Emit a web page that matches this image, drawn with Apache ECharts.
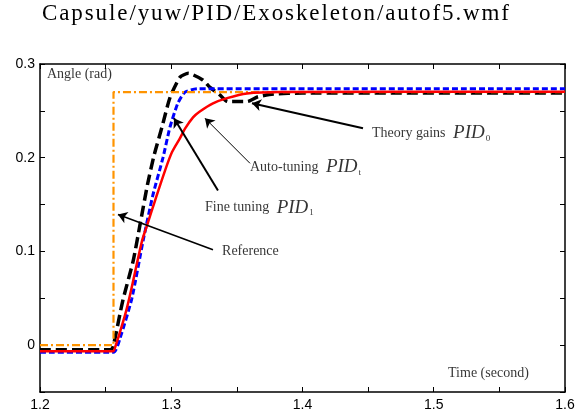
<!DOCTYPE html>
<html>
<head>
<meta charset="utf-8">
<script src="https://cdn.jsdelivr.net/npm/echarts@6/dist/echarts.min.js"></script>
<style>
  html, body { margin: 0; padding: 0; background: #fff; }
  #title { position: absolute; left: 42px; top: 0px; font-family: 'Liberation Serif', serif; font-size: 23px; letter-spacing: 1.9px; color: #000; }
  #chart { position: absolute; left: 0; top: 0; width: 579px; height: 415px; }
</style>
</head>
<body>
<div id="chart"></div>
<div id="title">Capsule/yuw/PID/Exoskeleton/autof5.wmf</div>
<script>
// [time, angle]
const referenceData = [[1.2, 0], [1.256, 0], [1.256, 0.27], [1.6, 0.27]]
const theoryData = [
  [1.2, -0.005], [1.254, -0.005], [1.256, 0.0], [1.263, 0.047], [1.271, 0.09],
  [1.276, 0.127], [1.282, 0.172], [1.287, 0.203], [1.293, 0.233], [1.299, 0.264],
  [1.3067, 0.286], [1.313, 0.29], [1.324, 0.283], [1.3295, 0.275], [1.337, 0.267],
  [1.343, 0.26], [1.358, 0.26], [1.366, 0.265], [1.378, 0.268], [1.4, 0.269], [1.6, 0.269]
]
const fineData = [
  [1.2, -0.0075], [1.256, -0.0075], [1.261, 0.0075], [1.27, 0.05], [1.2785, 0.111],
  [1.286, 0.16], [1.2937, 0.2], [1.299, 0.2325], [1.305, 0.258], [1.3105, 0.27],
  [1.32, 0.2735], [1.6, 0.2735]
]
const autoData = [
  [1.2, -0.0065], [1.2556, -0.0065], [1.2571, -0.003], [1.2663, 0.04], [1.2777, 0.111],
  [1.2815, 0.1275], [1.2876, 0.154], [1.2952, 0.186], [1.3006, 0.206], [1.3067, 0.221],
  [1.3105, 0.231], [1.3166, 0.243], [1.3215, 0.249], [1.3318, 0.258], [1.3425, 0.2636],
  [1.3577, 0.2686], [1.383, 0.2702], [1.6, 0.2705]
]

// annotation arrows: [from, to, width]
const arrows = [
  [[1.4461, 0.2314], [1.3615, 0.2582], 2],
  [[1.36, 0.194], [1.3257, 0.2421], 1],
  [[1.3356, 0.165], [1.3021, 0.2421], 2],
  [[1.3318, 0.1018], [1.2594, 0.1393], 1.6]
]
// annotation texts: [position, rich text]
const notes = [
  [[1.453, 0.2261], '{n|Theory gains }{p|PID}{s|0}'],
  [[1.36, 0.1896], '{n|Auto-tuning }{p|PID}{s|t}'],
  [[1.3257, 0.1468], '{n|Fine tuning }{p|PID}{s|1}'],
  [[1.3387, 0.0996], '{n|Reference}'],
  [[1.2053, 0.2893], '{n|Angle (rad)}'],
  [[1.5109, -0.03], '{n|Time (second)}']
]

const xTicks = [1.2, 1.3, 1.4, 1.5, 1.6]
const yTicks = [0, 0.1, 0.2, 0.3]

const chart = echarts.init(document.getElementById('chart'))

const isMajor = (v, list) => list.some(t => Math.abs(t - v) < 1e-6)
const axisLine = { show: true, onZero: false, lineStyle: { color: '#000', width: 1.5 } }
const axisTick = { show: true, inside: true, length: 5, lineStyle: { color: '#000', width: 1 } }
const tickFont = { color: '#000', fontSize: 14, fontFamily: 'Liberation Sans' }

const option = {
  backgroundColor: '#fff',
  animation: false,
  grid: { left: 40, right: 14, top: 64, bottom: 23 },
  xAxis: [
    {
      type: 'value', min: 1.2, max: 1.6, interval: 0.05,
      axisLine, axisTick, splitLine: { show: false },
      axisLabel: {
        ...tickFont, margin: 6,
        formatter: v => (isMajor(v, xTicks) ? v.toFixed(1) : '')
      }
    },
    {
      type: 'value', position: 'top', min: 1.2, max: 1.6, interval: 0.05,
      axisLine, axisTick, splitLine: { show: false }, axisLabel: { show: false }
    }
  ],
  yAxis: [
    {
      type: 'value', min: -0.05, max: 0.3, interval: 0.05,
      axisLine, axisTick, splitLine: { show: false },
      axisLabel: {
        ...tickFont, margin: 5,
        formatter: v => (isMajor(v, yTicks) ? (Math.abs(v) < 1e-9 ? '0' : v.toFixed(1)) : '')
      }
    },
    {
      type: 'value', position: 'right', min: -0.05, max: 0.3, interval: 0.05,
      axisLine, axisTick, splitLine: { show: false }, axisLabel: { show: false }
    }
  ],
  series: [
    {
      name: 'Theory gains PID0', type: 'line', data: theoryData, symbol: 'none', smooth: 0.2,
      lineStyle: { color: '#000', width: 3.5, type: [11, 5] }
    },
    {
      name: 'Fine tuning PID1', type: 'line', data: fineData, symbol: 'none', smooth: 0.2,
      lineStyle: { color: '#0000ff', width: 3, type: [6, 3] }
    },
    {
      name: 'Reference', type: 'line', data: referenceData, symbol: 'none',
      lineStyle: { color: '#ff9400', width: 2.2, type: [8, 3, 2, 3] }
    },
    {
      name: 'Auto-tuning PIDt', type: 'line', data: autoData, symbol: 'none', smooth: 0.3,
      lineStyle: { color: '#ff0000', width: 2.5 }
    },
    {
      type: 'lines', coordinateSystem: 'cartesian2d', z: 5,
      symbol: ['none', 'arrow'], symbolSize: 9,
      data: arrows.map(a => ({
        coords: [a[0], a[1]],
        lineStyle: { color: '#000', width: a[2], opacity: 1 }
      }))
    },
    {
      type: 'scatter', symbolSize: 0, z: 6,
      data: notes.map(n => ({
        value: n[0],
        label: { formatter: n[1] }
      })),
      label: {
        show: true, position: 'right', distance: 0,
        rich: {
          n: { fontFamily: 'Liberation Serif', fontSize: 14, color: '#000' },
          p: { fontFamily: 'Liberation Serif', fontStyle: 'italic', fontSize: 19, color: '#000', padding: [0, 0, 0, 4] },
          s: { fontFamily: 'Liberation Serif', fontSize: 9, color: '#000', verticalAlign: 'bottom', padding: [8, 0, 0, 1] }
        }
      }
    }
  ]
}

chart.setOption(option)
</script>
</body>
</html>
